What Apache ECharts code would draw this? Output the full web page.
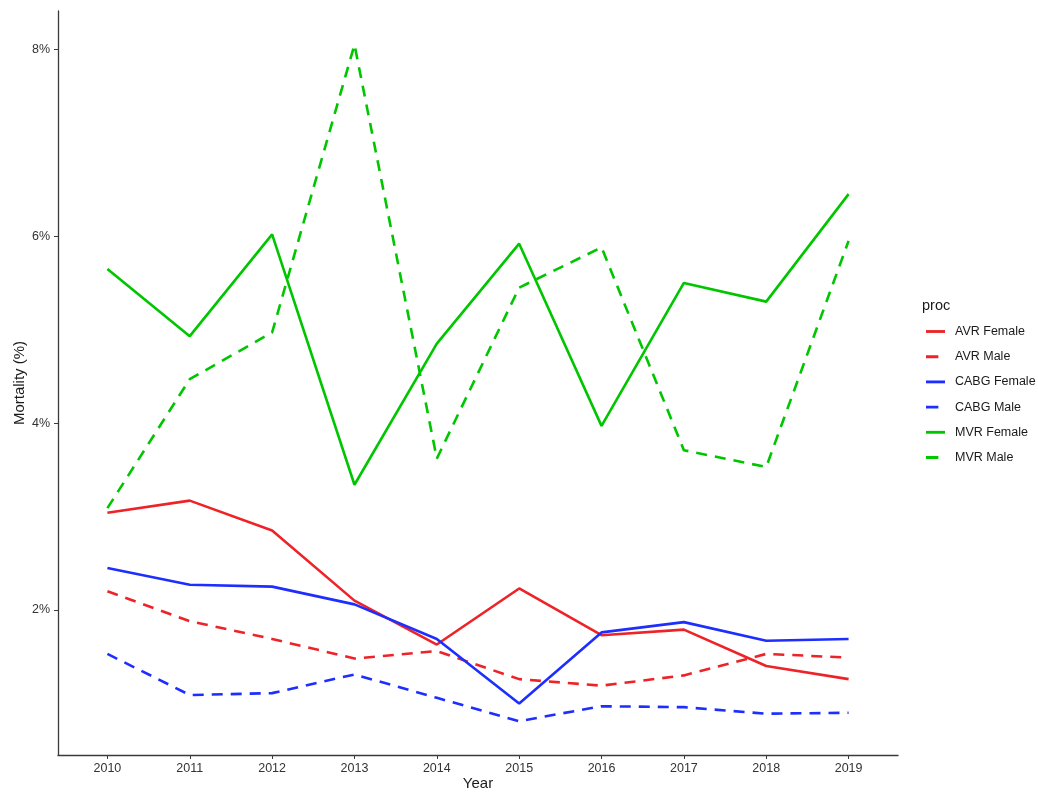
<!DOCTYPE html>
<html>
<head>
<meta charset="utf-8">
<script src="https://cdn.jsdelivr.net/npm/echarts@6/dist/echarts.min.js"></script>
<style>
  html, body { margin: 0; padding: 0; background: #fff; }
  #chart { width: 1038px; height: 792px; }
</style>
</head>
<body>
<div id="chart"></div>
<script>
// Years on the x axis
const years = [2010, 2011, 2012, 2013, 2014, 2015, 2016, 2017, 2018, 2019];

// Mortality (%) by procedure and sex
const avrFemale  = [3.04, 3.17, 2.85, 2.10, 1.63, 2.23, 1.73, 1.79, 1.40, 1.26];
const avrMale    = [2.20, 1.88, 1.69, 1.48, 1.56, 1.26, 1.19, 1.30, 1.53, 1.49];
const cabgFemale = [2.45, 2.27, 2.25, 2.06, 1.69, 1.00, 1.76, 1.87, 1.67, 1.69];
const cabgMale   = [1.53, 1.09, 1.11, 1.31, 1.06, 0.81, 0.97, 0.96, 0.89, 0.90];
const mvrFemale  = [5.65, 4.93, 6.02, 3.34, 4.85, 5.92, 3.97, 5.50, 5.30, 6.45];
const mvrMale    = [3.09, 4.47, 4.97, 8.05, 3.62, 5.45, 5.88, 3.71, 3.53, 5.95];

// Tick positions on the y axis
const yTicks = [2, 4, 6, 8];

const RED = '#EE2328', BLUE = '#1D2EFF', GREEN = '#00C600';
const font = 'Liberation Sans, Arial, sans-serif';

// Legend keys: a full bar for solid lines, a short dash for dashed ones
const SOLID_KEY = 'path://M0,0 L20,0 L20,3 L0,3 Z';
const DASH_KEY = 'path://M0,0 L13,0 L13,3 L0,3 Z M19.99,1.5 L20,1.5';

function pairs(vals) { return years.map((y, i) => [y, vals[i]]); }

function line(name, vals, color, dashed) {
  return {
    name: name,
    type: 'line',
    data: pairs(vals),
    showSymbol: false,
    symbol: 'none',
    silent: true,
    lineStyle: { color: color, width: 2.6, type: dashed ? [11, 8] : 'solid' },
    itemStyle: { color: color }
  };
}

const chart = echarts.init(document.getElementById('chart'), null, { renderer: 'canvas' });
chart.setOption({
  animation: false,
  backgroundColor: '#fff',
  grid: { left: 58, right: 140, top: 11, bottom: 37, containLabel: false, outerBoundsMode: 'none' },
  xAxis: {
    type: 'value',
    min: 2009.4,
    max: 2019.6,
    name: 'Year',
    nameLocation: 'middle',
    nameGap: 21,
    nameMoveOverlap: false,
    nameTextStyle: { fontFamily: font, fontSize: 15, color: '#1a1a1a' },
    splitLine: { show: false },
    axisLine: { show: true, lineStyle: { color: '#3a3a3a', width: 1.3 } },
    axisTick: { show: true, length: 4, customValues: years, lineStyle: { color: '#3a3a3a', width: 1 } },
    axisLabel: {
      customValues: years,
      formatter: v => String(v),
      margin: 7,
      fontFamily: font, fontSize: 12.5, color: '#333333'
    }
  },
  yAxis: {
    type: 'value',
    min: 0.448,
    max: 8.41,
    name: 'Mortality (%)',
    nameLocation: 'middle',
    nameGap: 31,
    nameMoveOverlap: false,
    nameRotate: 90,
    nameTextStyle: { fontFamily: font, fontSize: 15, color: '#1a1a1a' },
    splitLine: { show: false },
    axisLine: { show: true, lineStyle: { color: '#3a3a3a', width: 1.3 } },
    axisTick: { show: true, length: 4, customValues: yTicks, lineStyle: { color: '#3a3a3a', width: 1 } },
    axisLabel: {
      customValues: yTicks,
      formatter: v => Math.round(v) + '%',
      margin: 8,
      fontFamily: font, fontSize: 12.5, color: '#333333'
    }
  },
  legend: {
    orient: 'vertical',
    left: 926,
    top: 325,
    padding: 0,
    itemGap: 12.2,
    itemWidth: 19,
    itemHeight: 13,
    textStyle: { fontFamily: font, fontSize: 12.5, color: '#1a1a1a', padding: [0, 0, 0, 5] },
    data: [
      { name: 'AVR Female', icon: SOLID_KEY, itemStyle: { color: RED } },
      { name: 'AVR Male', icon: DASH_KEY, itemStyle: { color: RED } },
      { name: 'CABG Female', icon: SOLID_KEY, itemStyle: { color: BLUE } },
      { name: 'CABG Male', icon: DASH_KEY, itemStyle: { color: BLUE } },
      { name: 'MVR Female', icon: SOLID_KEY, itemStyle: { color: GREEN } },
      { name: 'MVR Male', icon: DASH_KEY, itemStyle: { color: GREEN } }
    ]
  },
  graphic: [
    {
      type: 'text', left: 922, top: 298,
      style: { text: 'proc', fontFamily: font, fontSize: 14.5, fill: '#1a1a1a' }
    }
  ],
  series: [
    line('AVR Female', avrFemale, RED, false),
    line('AVR Male', avrMale, RED, true),
    line('CABG Female', cabgFemale, BLUE, false),
    line('CABG Male', cabgMale, BLUE, true),
    line('MVR Female', mvrFemale, GREEN, false),
    line('MVR Male', mvrMale, GREEN, true)
  ]
});
</script>
</body>
</html>
